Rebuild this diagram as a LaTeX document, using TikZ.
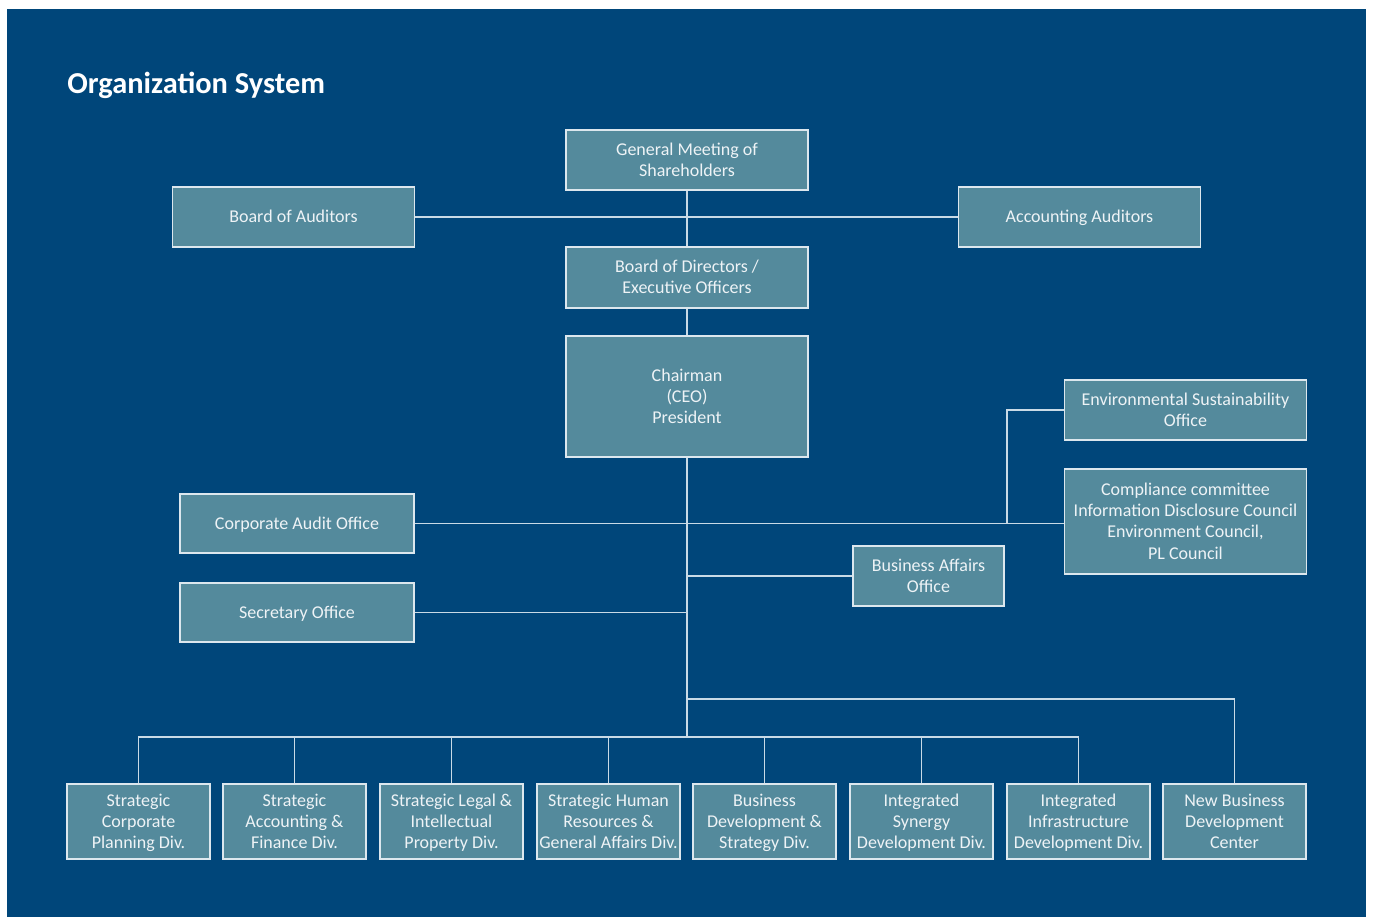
\documentclass[tikz,border=0pt]{standalone}
\usepackage{fontspec}
\setmainfont{Carlito}
% centred stack of lines, each row one strut tall, visually centred on the node
\newcommand\lines[1]{\smash{\raisebox{-3pt}{\begin{tabular}{@{}c@{}}#1\end{tabular}}}}
\begin{document}
\definecolor{bgblue}{HTML}{00467A}
\definecolor{boxfill}{HTML}{548A9C}
\definecolor{boxedge}{HTML}{DCE7EE}
\definecolor{wire}{HTML}{C9DAE6}
\definecolor{txt}{HTML}{EEF3F6}
\begin{tikzpicture}[x=0.5pt,y=-0.5pt,
  unit/.style={draw=boxedge,fill=boxfill,line width=0.8pt,inner sep=0pt,
    text=txt,font=\fontsize{9}{10.6}\selectfont},
  wide/.style={unit,minimum width=121pt,minimum height=30pt},
  div/.style={unit,minimum width=71.5pt,minimum height=37.5pt},
  link/.style={draw=wire,line width=0.75pt}]
\useasboundingbox (0,0) rectangle (1373,917);
\fill[bgblue] (7,9) rectangle (1366,917);

\node[anchor=base west,inner sep=0pt,text=white,font=\fontsize{15.2}{18}\selectfont\bfseries] (title) at (67,93) {Organization System};

% upper governance
\node[wide] (gm)  at (687,160)   {\lines{General Meeting of\\Shareholders}};
\node[wide] (boa) at (293.5,217) {\lines{Board of Auditors}};
\node[wide] (aa)  at (1079.5,217){\lines{Accounting Auditors}};
\node[wide,minimum height=30.5pt] (bod) at (687,277.5) {\lines{Board of Directors /\\Executive Officers}};
\node[wide,minimum height=60.5pt] (ceo) at (687,396.5) {\lines{Chairman\\(CEO)\\President}};

% staff offices
\node[wide] (env)  at (1185.5,410) {\lines{Environmental Sustainability\\Office}};
\node[wide,minimum height=52.5pt] (comp) at (1185.5,521.5) {\lines{Compliance committee\\Information Disclosure Council\\Environment Council,\\PL Council}};
\node[wide,minimum width=117pt,minimum height=29.5pt] (cao) at (297,523.5) {\lines{Corporate Audit Office}};
\node[wide,minimum width=117pt,minimum height=29.5pt] (sec) at (297,612.5) {\lines{Secretary Office}};
\node[wide,minimum width=75.5pt] (ba) at (928.5,576) {\lines{Business Affairs\\Office}};

% divisions
\node[div] (d1) at (138.5,821.5)  {\lines{Strategic\\Corporate\\Planning Div.}};
\node[div] (d2) at (294.5,821.5)  {\lines{Strategic\\Accounting \&\\Finance Div.}};
\node[div] (d3) at (451.5,821.5)  {\lines{Strategic Legal \&\\Intellectual\\Property Div.}};
\node[div] (d4) at (608.5,821.5)  {\lines{Strategic Human\\Resources \&\\General Affairs Div.}};
\node[div] (d5) at (764.5,821.5)  {\lines{Business\\Development \&\\Strategy Div.}};
\node[div] (d6) at (921.5,821.5)  {\lines{Integrated\\Synergy\\Development Div.}};
\node[div] (d7) at (1078.5,821.5) {\lines{Integrated\\Infrastructure\\Development Div.}};
\node[div] (d8) at (1234.5,821.5) {\lines{New Business\\Development\\Center}};

% junction points
\coordinate (ej) at (1007,523.5);
\coordinate (j1) at (687,699);
\coordinate (j2) at (687,737);

% connectors
\draw[link] (gm.south) -- (bod.north);
\draw[link] (boa.east) -- (aa.west);
\draw[link] (bod.south) -- (ceo.north);
\draw[link] (ceo.south) -- (j2);
\draw[link] (cao.east) -- (cao.east -| comp.west);
\draw[link] (env.west) -| (ej);
\draw[link] (ba.west) -- (ba.west -| ceo.south);
\draw[link] (sec.east) -- (sec.east -| ceo.south);
\draw[link] (j1) -| (d8.north);
\draw[link] (d1.north) |- (d7.north |- j2) -- (d7.north);
\foreach \d in {d2,d3,d4,d5,d6}
  \draw[link] (\d.north) -- (\d.north |- j2);
\end{tikzpicture}
\end{document}
